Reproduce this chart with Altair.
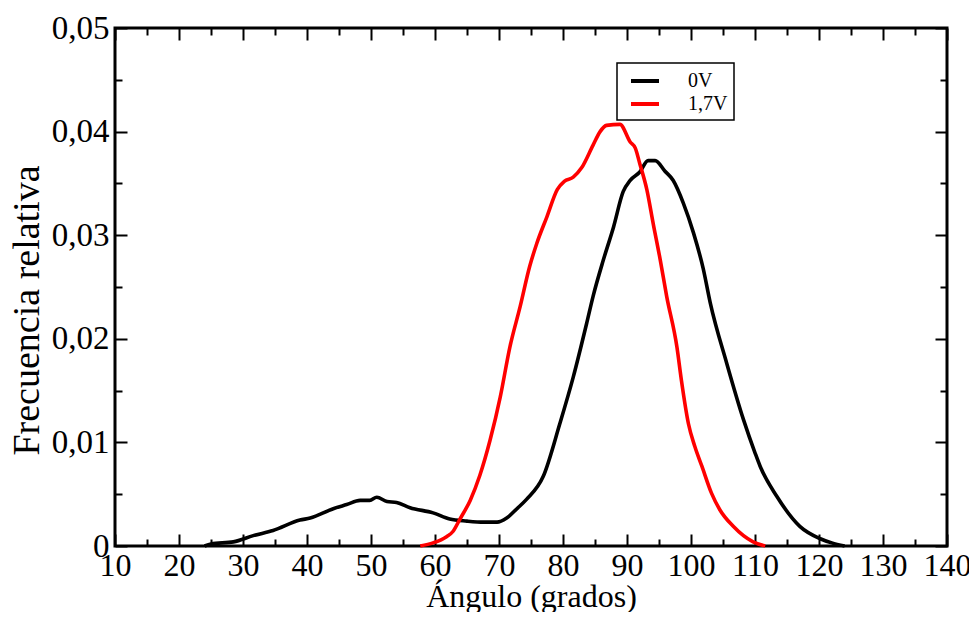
import altair as alt
import pandas as pd

# 0V series (black)
angle_0v = [24, 25, 28.5, 31.6, 34.7, 38.9, 40.5, 44.1, 46.2, 48.3, 49.8, 50.9, 52.5, 54.0, 56.1,
            59.7, 62.3, 65.0, 67.6, 69.7, 71.2, 72.8, 74.3, 76.9, 79.5, 81.6, 83.7, 84.7, 86.3,
            87.9, 89.4, 90.5, 92.0, 93.3, 94.4, 95.9, 97.2, 98.8, 100.4, 101.9, 103.0, 105.6,
            108.2, 110.0, 110.8, 113.4, 117.0, 120.2, 122.0, 124.0]
freq_0v = [0.0, 0.0002, 0.0004, 0.0010, 0.0015, 0.0025, 0.0027, 0.0036, 0.0040, 0.0044, 0.0044,
           0.0047, 0.0043, 0.0042, 0.0037, 0.0032, 0.0026, 0.0024, 0.0023, 0.0023, 0.0027, 0.0036,
           0.0045, 0.0067, 0.0118, 0.0163, 0.0215, 0.0241, 0.0276, 0.0308, 0.0342, 0.0353, 0.0361,
           0.0372, 0.0372, 0.0362, 0.0353, 0.0331, 0.0302, 0.0268, 0.0235, 0.0176, 0.0122, 0.0090,
           0.0077, 0.0048, 0.0019, 0.0007, 0.0003, 0.0]

# 1,7V series (red)
angle_17v = [57.7, 59.7, 61.8, 62.8, 63.9, 65.5, 67.0, 68.6, 70.2, 71.7, 73.3, 74.8, 75.9, 77.5,
             79.1, 80.2, 81.6, 82.9, 84.7, 85.8, 86.8, 88.9, 90.5, 91.3, 92.0, 93.1, 94.1, 95.2,
             96.2, 97.8, 98.5, 99.6, 100.6, 101.7, 103.2, 104.5, 106.6, 109.7, 111.6]
freq_17v = [0.0, 0.0003, 0.0009, 0.0014, 0.0026, 0.0044, 0.0068, 0.0102, 0.0144, 0.0192, 0.0231,
            0.0270, 0.0292, 0.0318, 0.0344, 0.0352, 0.0356, 0.0365, 0.0387, 0.0400, 0.0406, 0.0407,
            0.0390, 0.0384, 0.0369, 0.0344, 0.0311, 0.0276, 0.0241, 0.0192, 0.0160, 0.0118, 0.0096,
            0.0077, 0.0051, 0.0035, 0.0019, 0.0004, 0.0]

series_names = ["0V", "1,7V"]
series_colors = ["black", "red"]

x_major = [10, 20, 30, 40, 50, 60, 70, 80, 90, 100, 110, 120, 130, 140]
x_minor = [15, 25, 35, 45, 55, 65, 75, 85, 95, 105, 115, 125, 135]
y_major = [0.0, 0.01, 0.02, 0.03, 0.04, 0.05]
y_minor = [0.005, 0.015, 0.025, 0.035, 0.045]

df = pd.concat([
    pd.DataFrame({"angle": angle_0v, "freq": freq_0v, "serie": series_names[0]}),
    pd.DataFrame({"angle": angle_17v, "freq": freq_17v, "serie": series_names[1]}),
])

FONT = "Liberation Serif"
W, H = 832, 518

xscale = alt.Scale(domain=[10, 140], nice=False, zero=False)
yscale = alt.Scale(domain=[0, 0.05], nice=False, zero=True)


def tick_axis(orient, values, size, labels=False, **kw):
    return alt.Axis(orient=orient, values=values, tickSize={"expr": str(-size)},
                    tickWidth=2, tickColor="black", domain=False, grid=False,
                    labels=labels, **kw)


ylabel_expr = "datum.value == 0 ? '0' : replace(format(datum.value, '.2f'), '.', ',')"

lines = alt.Chart(df).mark_line(strokeWidth=3.6, interpolate="monotone").encode(
    x=alt.X("angle:Q", scale=xscale,
            axis=tick_axis("bottom", x_major, 12, labels=True,
                           labelFont=FONT, labelFontSize=32, labelColor="black",
                           labelPadding=16, labelFlush=False,
                           title="Ángulo (grados)", titleFont=FONT, titleFontSize=32,
                           titleFontWeight="normal", titleColor="black",
                           titleX=416, titleY=60, titleBaseline="alphabetic")),
    y=alt.Y("freq:Q", scale=yscale,
            axis=tick_axis("left", y_major, 12, labels=True,
                           labelFont=FONT, labelFontSize=33, labelColor="black",
                           labelPadding=18, labelExpr=ylabel_expr, labelFlush=False,
                           title="Frecuencia relativa", titleFont=FONT, titleFontSize=38,
                           titleFontWeight="normal", titleColor="black",
                           titleX=-77, titleY=282, titleBaseline="alphabetic",
                           titleAlign="center", titleAngle=270)),
    color=alt.Color("serie:N", scale=alt.Scale(domain=series_names, range=series_colors),
                    legend=alt.Legend(title=None, orient="none", legendX=502, legendY=35,
                                      symbolType="M-1.4,0H1.4", symbolStrokeWidth=4,
                                      symbolSize=400, symbolOffset=10, labelOffset=31,
                                      labelFont=FONT, labelFontSize=20, labelColor="black",
                                      padding=6, rowPadding=1, fillColor="white",
                                      strokeColor="black")),
)


def ghost(xaxis, yaxis):
    return alt.Chart(df).mark_line(strokeOpacity=0).encode(
        x=alt.X("angle:Q", scale=xscale, axis=xaxis),
        y=alt.Y("freq:Q", scale=yscale, axis=yaxis),
        detail="serie:N",
    )


g1 = ghost(tick_axis("bottom", x_minor, 7, title=None), tick_axis("left", y_minor, 7, title=None))
g2 = ghost(tick_axis("top", x_major, 12, title=None), tick_axis("right", y_major, 12, title=None))
g3 = ghost(tick_axis("top", x_minor, 7, title=None), tick_axis("right", y_minor, 7, title=None))

chart = alt.layer(lines, g1, g2, g3).resolve_axis(
    x="independent", y="independent"
).properties(
    width=W, height=H,
    autosize=alt.AutoSizeParams(type="none"),
    padding={"left": 107, "top": 20, "right": 22, "bottom": 66},
).configure_view(
    stroke="black", strokeWidth=3
).configure_legend(
    strokeWidth=1.5
)

chart.save("out.html", embed_options={"renderer": "svg", "actions": False})
